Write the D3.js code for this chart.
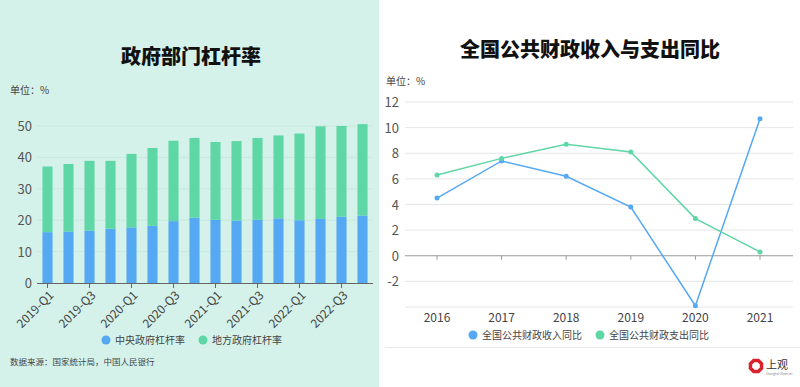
<!DOCTYPE html>
<html>
<head>
<meta charset="utf-8">
<script src="https://cdn.jsdelivr.net/npm/d3@7"></script>
<style>
  body { margin: 0; background: #fff; }
  svg { display: block; font-family: "Noto Sans CJK SC", "Noto Sans", sans-serif; }
</style>
</head>
<body>
<script>
// Left chart data: government leverage ratio (%)
const quarters = ['2019-Q1', '2019-Q2', '2019-Q3', '2019-Q4', '2020-Q1', '2020-Q2', '2020-Q3', '2020-Q4',
  '2021-Q1', '2021-Q2', '2021-Q3', '2021-Q4', '2022-Q1', '2022-Q2', '2022-Q3', '2022-Q4'];
const central = [16.2, 16.4, 16.7, 17.3, 17.7, 18.2, 19.7, 20.8, 20.1, 19.9, 20.1, 20.6, 20.0, 20.4, 21.1, 21.5];
const local = [20.9, 21.5, 22.2, 21.6, 23.4, 24.8, 25.6, 25.4, 24.8, 25.3, 26.1, 26.4, 27.6, 29.5, 28.9, 29.1];
const leftTicks = [0, 10, 20, 30, 40, 50];

// Right chart data: YoY of public finance revenue / expenditure (%)
const years = ['2016', '2017', '2018', '2019', '2020', '2021'];
const revenue = [4.5, 7.4, 6.2, 3.8, -3.9, 10.7];
const expenditure = [6.3, 7.6, 8.7, 8.1, 2.9, 0.3];
const rightTicks = [-4, -2, 0, 2, 4, 6, 8, 10, 12];

const blue = '#55a8f2';
const green = '#5ed6a5';

const width = 800;
const height = 387;

const svg = d3.select('body')
  .append('svg')
  .attr('width', width)
  .attr('height', height);

// ---------- left panel ----------
svg.append('rect')
  .attr('width', 379)
  .attr('height', height)
  .attr('fill', '#d4f2ea');

svg.append('text')
  .attr('x', 191).attr('y', 64)
  .attr('text-anchor', 'middle')
  .attr('font-size', 20).attr('font-weight', 900)
  .attr('fill', '#111')
  .text('政府部门杠杆率');

svg.append('text')
  .attr('x', 10).attr('y', 94)
  .attr('font-size', 10).attr('fill', '#444')
  .text('单位：%');

const xL = d3.scaleBand()
  .domain(quarters)
  .range([37, 373])
  .paddingInner(0.52)
  .paddingOuter(0.26);

const yL = d3.scaleLinear()
  .domain([0, 50])
  .range([283, 126]);

const leftG = svg.append('g');

leftG.selectAll('.grid')
  .data(leftTicks.slice(1))
  .join('line')
  .attr('x1', 37).attr('x2', 373)
  .attr('y1', d => yL(d)).attr('y2', d => yL(d))
  .attr('stroke', '#c6e8de').attr('stroke-width', 1);

leftG.selectAll('.ylab')
  .data(leftTicks)
  .join('text')
  .attr('x', 32).attr('y', d => yL(d) + 5)
  .attr('text-anchor', 'end')
  .attr('font-size', 13).attr('fill', '#555')
  .text(d => d);

const stacked = quarters.map((q, i) => ({ q, c: central[i], l: local[i] }));

leftG.selectAll('.bar-c')
  .data(stacked)
  .join('rect')
  .attr('x', d => xL(d.q))
  .attr('width', xL.bandwidth())
  .attr('y', d => yL(d.c))
  .attr('height', d => yL(0) - yL(d.c))
  .attr('fill', blue);

leftG.selectAll('.bar-l')
  .data(stacked)
  .join('rect')
  .attr('x', d => xL(d.q))
  .attr('width', xL.bandwidth())
  .attr('y', d => yL(d.c + d.l))
  .attr('height', d => yL(d.c) - yL(d.c + d.l))
  .attr('fill', green);

leftG.append('line')
  .attr('x1', 37).attr('x2', 373)
  .attr('y1', yL(0) + 0.5).attr('y2', yL(0) + 0.5)
  .attr('stroke', '#666');

const shownQ = quarters.filter((q, i) => i % 2 === 0);

leftG.selectAll('.xtick')
  .data(shownQ)
  .join('line')
  .attr('x1', d => xL(d) + xL.bandwidth() / 2)
  .attr('x2', d => xL(d) + xL.bandwidth() / 2)
  .attr('y1', yL(0)).attr('y2', yL(0) + 5)
  .attr('stroke', '#666');

leftG.selectAll('.xlab')
  .data(shownQ)
  .join('text')
  .attr('transform', d => `translate(${xL(d) + xL.bandwidth() / 2 + 4},${yL(0) + 10}) rotate(-45)`)
  .attr('text-anchor', 'end')
  .attr('dy', '0.35em')
  .attr('font-size', 12).attr('fill', '#444')
  .text(d => d);

const leftLegend = [{ name: '中央政府杠杆率', color: blue, x: 106 }, { name: '地方政府杠杆率', color: green, x: 203 }];
const llg = leftG.selectAll('.leg')
  .data(leftLegend)
  .join('g')
  .attr('transform', d => `translate(${d.x},340)`);
llg.append('circle').attr('r', 4.5).attr('fill', d => d.color);
llg.append('text')
  .attr('x', 9).attr('y', 3.8)
  .attr('font-size', 10).attr('fill', '#444')
  .text(d => d.name);

svg.append('text')
  .attr('x', 10).attr('y', 365)
  .attr('font-size', 8.5).attr('fill', '#444')
  .text('数据来源：国家统计局，中国人民银行');

// ---------- right panel ----------
svg.append('text')
  .attr('x', 590).attr('y', 57)
  .attr('text-anchor', 'middle')
  .attr('font-size', 20).attr('font-weight', 900)
  .attr('fill', '#111')
  .text('全国公共财政收入与支出同比');

svg.append('text')
  .attr('x', 386).attr('y', 85)
  .attr('font-size', 10).attr('fill', '#444')
  .text('单位：%');

const xR = d3.scalePoint()
  .domain(years)
  .range([437, 760]);

const yR = d3.scaleLinear()
  .domain([-4, 12])
  .range([307, 102]);

const rightG = svg.append('g');

rightG.selectAll('.grid')
  .data(rightTicks.filter(d => d !== 0))
  .join('line')
  .attr('x1', 405).attr('x2', 793)
  .attr('y1', d => yR(d)).attr('y2', d => yR(d))
  .attr('stroke', '#e6e6e6');

rightG.selectAll('.ylab')
  .data(rightTicks.filter(d => d !== -4))
  .join('text')
  .attr('x', 399).attr('y', d => yR(d) + 5)
  .attr('text-anchor', 'end')
  .attr('font-size', 13).attr('fill', '#555')
  .text(d => d);

rightG.append('line')
  .attr('x1', 405).attr('x2', 793)
  .attr('y1', yR(0)).attr('y2', yR(0))
  .attr('stroke', '#999');

rightG.selectAll('.xtick')
  .data(years)
  .join('line')
  .attr('x1', d => xR(d)).attr('x2', d => xR(d))
  .attr('y1', yR(0)).attr('y2', yR(0) + 4)
  .attr('stroke', '#999');

rightG.selectAll('.xlab')
  .data(years)
  .join('text')
  .attr('x', d => xR(d)).attr('y', 322)
  .attr('text-anchor', 'middle')
  .attr('font-size', 12).attr('fill', '#444')
  .text(d => d);

const line = d3.line()
  .x(d => xR(d.year))
  .y(d => yR(d.v));

const series = [
  { name: '全国公共财政收入同比', color: blue, values: revenue, lx: 473 },
  { name: '全国公共财政支出同比', color: green, values: expenditure, lx: 600 }
];

series.forEach(s => {
  const pts = years.map((year, i) => ({ year, v: s.values[i] }));
  rightG.append('path')
    .datum(pts)
    .attr('d', line)
    .attr('fill', 'none')
    .attr('stroke', s.color)
    .attr('stroke-width', 1.5);
  rightG.selectAll(null)
    .data(pts)
    .join('circle')
    .attr('cx', d => xR(d.year))
    .attr('cy', d => yR(d.v))
    .attr('r', 2.5)
    .attr('fill', s.color);
});

const rlg = rightG.selectAll('.leg')
  .data(series)
  .join('g')
  .attr('transform', d => `translate(${d.lx},335)`);
rlg.append('circle').attr('r', 4.5).attr('fill', d => d.color);
rlg.append('text')
  .attr('x', 9).attr('y', 3.8)
  .attr('font-size', 10).attr('fill', '#444')
  .text(d => d.name);

svg.append('line')
  .attr('x1', 385).attr('x2', 800)
  .attr('y1', 347.5).attr('y2', 347.5)
  .attr('stroke', '#e8e8e8');

// logo
const logo = svg.append('g').attr('transform', 'translate(756,366)');
logo.append('path')
  .attr('d', d3.range(8).map((k, i) => {
    const a = Math.PI / 8 + k * Math.PI / 4;
    return (i ? 'L' : 'M') + (6 * Math.cos(a)).toFixed(2) + ',' + (6 * Math.sin(a)).toFixed(2);
  }).join('') + 'Z')
  .attr('fill', 'none')
  .attr('stroke', '#d9232c')
  .attr('stroke-width', 3.5);
logo.append('text')
  .attr('x', 10).attr('y', 3)
  .attr('font-size', 11).attr('fill', '#333')
  .attr('font-family', '"Noto Sans CJK SC", serif')
  .text('上观');
logo.append('text')
  .attr('x', 10).attr('y', 9)
  .attr('font-size', 3).attr('fill', '#888')
  .text('Shanghai Observer');
</script>
</body>
</html>
